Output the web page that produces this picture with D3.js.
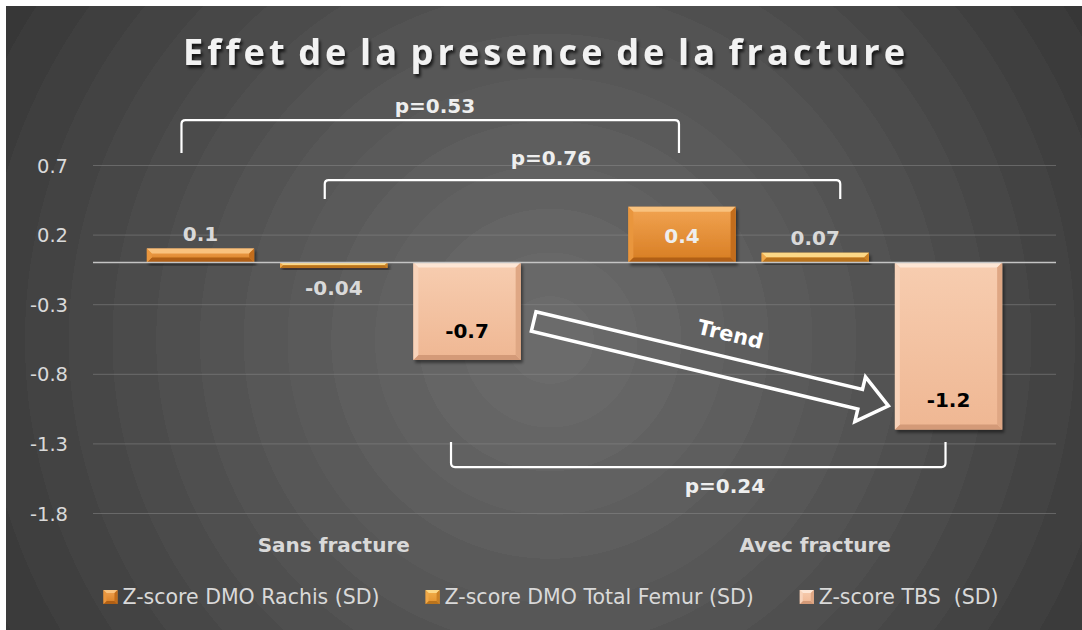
<!DOCTYPE html>
<html>
<head>
<meta charset="utf-8">
<script src="https://cdn.jsdelivr.net/npm/d3@7"></script>
<style>
    html, body { margin: 0; padding: 0; background: #ffffff; }
    svg { display: block; }
    text { font-family: "DejaVu Sans", sans-serif; }
</style>
</head>
<body>
<div id="chart"></div>
<script>
// chart values
const categories = ["Sans fracture", "Avec fracture"];
const seriesNames = ["Z-score DMO Rachis (SD)", "Z-score DMO Total Femur (SD)", "Z-score TBS  (SD)"];
const rachis = [0.1, 0.4];
const femur = [-0.04, 0.07];
const tbs = [-0.7, -1.2];
const yTicks = [0.7, 0.2, -0.3, -0.8, -1.3, -1.8];
const pLabels = ["p=0.53", "p=0.76", "p=0.24"];
const title = "Effet de la presence de la fracture";

const width = 1082, height = 630;
const plot = { left: 93, right: 1056, top: 165, bottom: 513 };

const svg = d3.select("#chart").append("svg")
    .attr("width", width)
    .attr("height", height);
const defs = svg.append("defs");

// banded radial background
const bg = defs.append("radialGradient")
    .attr("id", "bg")
    .attr("gradientUnits", "userSpaceOnUse")
    .attr("cx", 550).attr("cy", 340).attr("r", 700);
const bands = 16;
const shade = d3.interpolateRgb("#6b6b6b", "#333333");
for (let i = 0; i < bands; i++) {
    const c = shade(Math.pow(i / (bands - 1), 1.1));
    bg.append("stop").attr("offset", i / bands).attr("stop-color", c);
    bg.append("stop").attr("offset", (i + 1) / bands).attr("stop-color", c);
}

svg.append("rect")
    .attr("x", 6).attr("y", 6)
    .attr("width", width - 6).attr("height", height - 6)
    .attr("fill", "url(#bg)");

// shadows
defs.append("filter").attr("id", "barShadow")
    .attr("x", "-20%").attr("y", "-20%").attr("width", "140%").attr("height", "140%")
    .append("feDropShadow")
    .attr("dx", 2).attr("dy", 3).attr("stdDeviation", 1.6)
    .attr("flood-color", "#000").attr("flood-opacity", 0.45);
defs.append("filter").attr("id", "textShadow")
    .attr("x", "-10%").attr("y", "-30%").attr("width", "120%").attr("height", "160%")
    .append("feDropShadow")
    .attr("dx", 2).attr("dy", 3).attr("stdDeviation", 1.8)
    .attr("flood-color", "#000").attr("flood-opacity", 0.7);

// bar looks per series (bevelled)
const looks = [
    { id: "g0", top: "#f2a452", bottom: "#d77d22", hi: "#f9c27e", lo: "#b05f14", side: "#e9963e", sideDark: "#c36d1b" },
    { id: "g1", top: "#f3b04a", bottom: "#e2902c", hi: "#fcd887", lo: "#b9731c", side: "#f0a848", sideDark: "#cc8225" },
    { id: "g2", top: "#f7cdb0", bottom: "#efb793", hi: "#fde6d5", lo: "#d49a78", side: "#f8d3ba", sideDark: "#dfa784" }
];
looks.forEach(l => {
    const g = defs.append("linearGradient").attr("id", l.id)
        .attr("x1", 0).attr("y1", 0).attr("x2", 0).attr("y2", 1);
    g.append("stop").attr("offset", 0).attr("stop-color", l.top);
    g.append("stop").attr("offset", 1).attr("stop-color", l.bottom);
});

function bevelBox(sel, x, y, w, h, look, b) {
    b = Math.min(b, h / 2, w / 2);
    sel.append("rect").attr("x", x).attr("y", y).attr("width", w).attr("height", h)
        .attr("fill", `url(#${look.id})`);
    const poly = (pts, fill) => sel.append("polygon")
        .attr("points", pts.map(p => p.join(",")).join(" "))
        .attr("fill", fill);
    poly([[x, y], [x + w, y], [x + w - b, y + b], [x + b, y + b]], look.hi);
    poly([[x, y + h], [x + w, y + h], [x + w - b, y + h - b], [x + b, y + h - b]], look.lo);
    poly([[x, y], [x + b, y + b], [x + b, y + h - b], [x, y + h]], look.side);
    poly([[x + w, y], [x + w - b, y + b], [x + w - b, y + h - b], [x + w, y + h]], look.sideDark);
}

// scales
const x0 = d3.scaleBand().domain(categories).range([plot.left, plot.right]).padding(0);
const x1 = d3.scaleBand().domain(d3.range(seriesNames.length))
    .range([0, x0.bandwidth()])
    .paddingInner(0.195)
    .paddingOuter(0.404);
const y = d3.scaleLinear().domain([-1.8, 0.7]).range([plot.bottom, plot.top]);

// gridlines
svg.append("g")
    .attr("transform", `translate(${plot.left},0)`)
    .call(d3.axisLeft(y).tickValues(yTicks).tickSize(-(plot.right - plot.left)).tickFormat(""))
    .call(g => g.select(".domain").remove())
    .call(g => g.selectAll("line").attr("stroke", "#8c8c8c").attr("stroke-opacity", 0.5));

// tick labels
svg.append("g")
    .attr("transform", `translate(${plot.left},0)`)
    .call(d3.axisLeft(y).tickValues(yTicks).tickSize(0).tickPadding(25).tickFormat(d => d.toFixed(1)))
    .call(g => g.select(".domain").remove())
    .call(g => g.selectAll("text")
        .attr("font-family", "DejaVu Sans")
        .attr("font-size", 19.5)
        .attr("fill", "#d9d9d9")
        .attr("dy", "0.36em"));

// bars
const seriesValues = [rachis, femur, tbs];
const bars = [];
categories.forEach((c, ci) => {
    seriesValues.forEach((vals, si) => bars.push({ cat: c, ci, si, value: vals[ci] }));
});

const barX = d => x0(d.cat) + x1(d.si);
const barTop = d => y(Math.max(0, d.value));
const barBottom = d => y(Math.min(0, d.value));

const barG = svg.append("g");
barG.selectAll("g.bar")
    .data(bars)
    .join("g")
    .attr("class", "bar")
    .attr("filter", "url(#barShadow)")
    .each(function (d) {
        bevelBox(d3.select(this), barX(d), barTop(d), x1.bandwidth(), barBottom(d) - barTop(d), looks[d.si], 5);
    });

// zero line
svg.append("line")
    .attr("x1", plot.left).attr("x2", plot.right)
    .attr("y1", y(0)).attr("y2", y(0))
    .attr("stroke", "#c4c4c4")
    .attr("stroke-width", 1.6);

// value labels
svg.append("g").selectAll("text")
    .data(bars)
    .join("text")
    .attr("text-anchor", "middle")
    .attr("font-size", 20)
    .attr("font-weight", "bold")
    .attr("x", d => barX(d) + x1.bandwidth() / 2)
    .attr("y", d => {
        const h = barBottom(d) - barTop(d);
        if (h > 40) return d.value > 0 ? (barTop(d) + barBottom(d)) / 2 + 8 : barBottom(d) - 22;
        return d.value > 0 ? barTop(d) - 8 : barBottom(d) + 27;
    })
    .attr("fill", d => {
        const h = barBottom(d) - barTop(d);
        if (h > 40) return d.si === 2 ? "#000000" : "#eeeeee";
        return "#d9d9d9";
    })
    .text(d => String(d.value));

// category labels
svg.append("g").selectAll("text")
    .data(categories)
    .join("text")
    .attr("x", d => x0(d) + x0.bandwidth() / 2)
    .attr("y", 552)
    .attr("text-anchor", "middle")
    .attr("font-size", 20)
    .attr("font-weight", "bold")
    .attr("fill", "#d9d9d9")
    .text(d => d);

// title
svg.append("text")
    .attr("x", 544)
    .attr("y", 65)
    .attr("text-anchor", "middle")
    .style("font-family", "'Open Sans', sans-serif")
    .style("font-variant-ligatures", "none")
    .style("word-spacing", "-4px")
    .attr("font-size", 36)
    .attr("font-weight", "bold")
    .attr("fill", "#f2f2f2")
    .attr("textLength", 722)
    .attr("lengthAdjust", "spacing")
    .attr("filter", "url(#textShadow)")
    .text(title);

// p-value brackets, anchored on bar centres (y in data units)
const barAt = (ci, si) => bars.find(b => b.ci === ci && b.si === si);
const centreOf = b => barX(b) + x1.bandwidth() / 2;
const brackets = [
    { x1: centreOf(barAt(0, 0)) - 19, x2: centreOf(barAt(1, 0)) - 3, line: 1.023, leg: 0.786, label: pLabels[0], lx: 435, ly: 1.074 },
    { x1: centreOf(barAt(0, 1)) - 9, x2: centreOf(barAt(1, 1)) + 25, line: 0.592, leg: 0.456, label: pLabels[1], lx: 551, ly: 0.700 },
    { x1: centreOf(barAt(0, 2)) - 16, x2: centreOf(barAt(1, 2)) - 3, line: -1.470, leg: -1.290, label: pLabels[2], lx: 725, ly: -1.656 }
];
const bG = svg.append("g");
brackets.forEach(b => {
    const yl = y(b.line), yg = y(b.leg), r = 4 * Math.sign(yg - yl);
    bG.append("path")
        .attr("d", `M${b.x1},${yg} L${b.x1},${yl + r} Q${b.x1},${yl} ${b.x1 + 4},${yl} ` +
            `L${b.x2 - 4},${yl} Q${b.x2},${yl} ${b.x2},${yl + r} L${b.x2},${yg}`)
        .attr("fill", "none")
        .attr("stroke", "#ffffff")
        .attr("stroke-width", 2.2);
    bG.append("text")
        .attr("x", b.lx)
        .attr("y", y(b.ly))
        .attr("text-anchor", "middle")
        .attr("font-size", 20)
        .attr("font-weight", "bold")
        .attr("fill", "#eeeeee")
        .text(b.label);
});

// trend arrow from TBS bar to TBS bar
const tailBar = barAt(0, 2), tipBar = barAt(1, 2);
const tail = [barX(tailBar) + x1.bandwidth() + 13, y(-0.424)];
const tip = [barX(tipBar) - 6.5, y(-1.031)];
const len = Math.hypot(tip[0] - tail[0], tip[1] - tail[1]);
const ang = Math.atan2(tip[1] - tail[1], tip[0] - tail[0]) * 180 / Math.PI;
const sw = 10, hw = 23, hl = 29;
const arrow = svg.append("g").attr("transform", `translate(${tail[0]},${tail[1]}) rotate(${ang})`);
arrow.append("polygon")
    .attr("points", [[0, -sw], [len - hl, -sw], [len - hl, -hw], [len, 0], [len - hl, hw], [len - hl, sw], [0, sw]]
        .map(p => p.join(",")).join(" "))
    .attr("fill", "none")
    .attr("stroke", "#ffffff")
    .attr("stroke-width", 3.5)
    .attr("stroke-linejoin", "miter");
arrow.append("text")
    .attr("x", len / 2 + 12)
    .attr("y", -26)
    .attr("text-anchor", "middle")
    .attr("font-size", 21)
    .attr("font-weight", "bold")
    .attr("fill", "#ffffff")
    .text("Trend");

// legend
const legend = svg.append("g");
const items = legend.selectAll("g")
    .data(seriesNames)
    .join("g");
items.each(function (d, i) {
    const g = d3.select(this);
    const m = g.append("g");
    bevelBox(m, 0, -14, 14, 14, looks[i], 3);
    g.append("text")
        .attr("x", 19)
        .attr("y", 0)
        .attr("font-size", 20.5)
        .attr("fill", "#d9d9d9")
        .style("white-space", "pre")
        .text(d);
});
const widths = [];
items.each(function () { widths.push(d3.select(this).select("text").node().getComputedTextLength() + 19); });
const gap = 46;
const total = d3.sum(widths) + gap * (widths.length - 1);
let cursor = 551 - total / 2;
items.attr("transform", (d, i) => {
    const t = `translate(${cursor},604)`;
    cursor += widths[i] + gap;
    return t;
});
</script>
</body>
</html>
